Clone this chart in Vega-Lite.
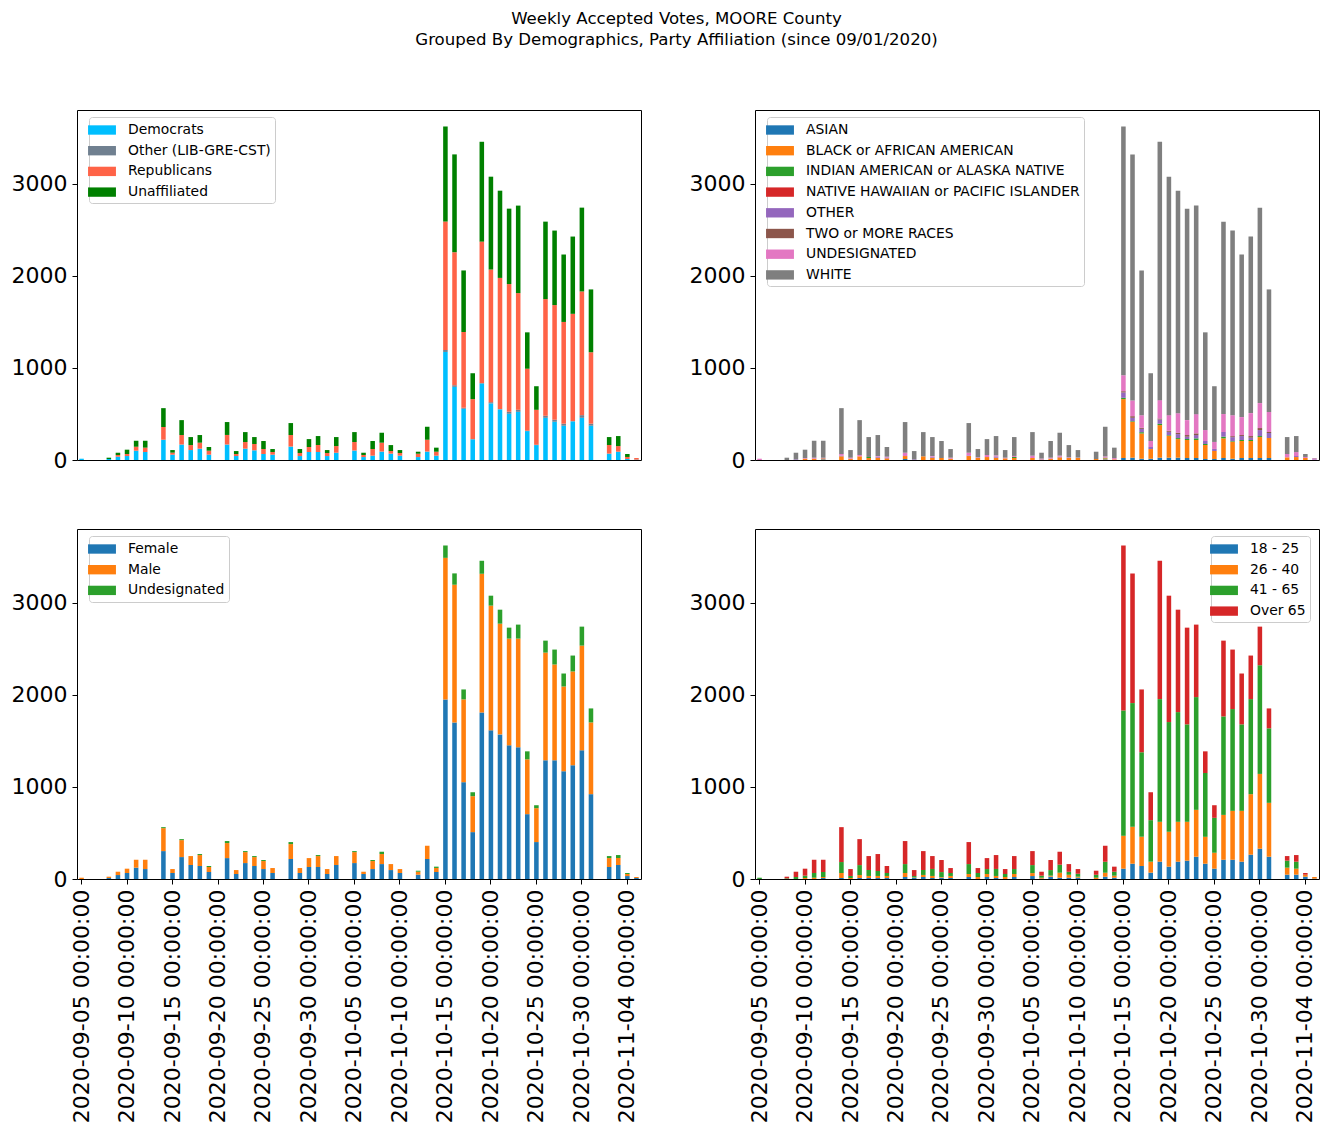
{
"$schema": "https://vega.github.io/schema/vega-lite/v6.json",
"padding": {"left": 10, "top": 10, "right": 4, "bottom": 4},
"background": "white",
"title": {"text": ["Weekly Accepted Votes, MOORE County", "Grouped By Demographics, Party Affiliation (since 09/01/2020)"], "fontSize": 16.6, "font": "DejaVu Sans", "fontWeight": "normal", "color": "black", "anchor": "middle", "lineHeight": 21, "offset": 61, "dx": 11.5},
"config": {
  "view": {"stroke": "black", "strokeWidth": 1},
  "font": "DejaVu Sans",
  "axis": {"domain": false, "grid": false, "tickColor": "black", "tickSize": 5, "labelColor": "black", "labelFontSize": 22, "labelFont": "DejaVu Sans", "labelPadding": 5, "title": null},
  "legend": {"title": null, "padding": 4, "strokeColor": "#cccccc", "fillColor": "white", "cornerRadius": 3, "symbolType": "M-1.55,-0.52H1.55V0.52H-1.55Z", "symbolSize": 324, "symbolStrokeWidth": 0, "symbolOpacity": 1, "labelFontSize": 13.9, "labelFont": "DejaVu Sans", "labelColor": "black", "labelOffset": 17, "rowPadding": 4.7, "labelLimit": 500, "offset": 7}
},
"datasets": {
"party": [
{"date":"2020-09-05 00:00:00","Democrats":14,"Other (LIB-GRE-CST)":0,"Republicans":0,"Unaffiliated":0},
{"date":"2020-09-06 00:00:00","Democrats":0,"Other (LIB-GRE-CST)":0,"Republicans":0,"Unaffiliated":0},
{"date":"2020-09-07 00:00:00","Democrats":0,"Other (LIB-GRE-CST)":0,"Republicans":0,"Unaffiliated":0},
{"date":"2020-09-08 00:00:00","Democrats":11,"Other (LIB-GRE-CST)":0,"Republicans":0,"Unaffiliated":14},
{"date":"2020-09-09 00:00:00","Democrats":36,"Other (LIB-GRE-CST)":0,"Republicans":18,"Unaffiliated":25},
{"date":"2020-09-10 00:00:00","Democrats":43,"Other (LIB-GRE-CST)":0,"Republicans":22,"Unaffiliated":47},
{"date":"2020-09-11 00:00:00","Democrats":101,"Other (LIB-GRE-CST)":0,"Republicans":43,"Unaffiliated":65},
{"date":"2020-09-12 00:00:00","Democrats":87,"Other (LIB-GRE-CST)":0,"Republicans":47,"Unaffiliated":75},
{"date":"2020-09-13 00:00:00","Democrats":0,"Other (LIB-GRE-CST)":0,"Republicans":0,"Unaffiliated":0},
{"date":"2020-09-14 00:00:00","Democrats":217,"Other (LIB-GRE-CST)":4,"Republicans":137,"Unaffiliated":205},
{"date":"2020-09-15 00:00:00","Democrats":58,"Other (LIB-GRE-CST)":0,"Republicans":22,"Unaffiliated":28},
{"date":"2020-09-16 00:00:00","Democrats":166,"Other (LIB-GRE-CST)":3,"Republicans":102,"Unaffiliated":162},
{"date":"2020-09-17 00:00:00","Democrats":108,"Other (LIB-GRE-CST)":0,"Republicans":54,"Unaffiliated":87},
{"date":"2020-09-18 00:00:00","Democrats":123,"Other (LIB-GRE-CST)":0,"Republicans":65,"Unaffiliated":83},
{"date":"2020-09-19 00:00:00","Democrats":58,"Other (LIB-GRE-CST)":0,"Republicans":43,"Unaffiliated":40},
{"date":"2020-09-20 00:00:00","Democrats":0,"Other (LIB-GRE-CST)":0,"Republicans":0,"Unaffiliated":0},
{"date":"2020-09-21 00:00:00","Democrats":166,"Other (LIB-GRE-CST)":3,"Republicans":103,"Unaffiliated":140},
{"date":"2020-09-22 00:00:00","Democrats":43,"Other (LIB-GRE-CST)":0,"Republicans":22,"Unaffiliated":32},
{"date":"2020-09-23 00:00:00","Democrats":123,"Other (LIB-GRE-CST)":0,"Republicans":72,"Unaffiliated":108},
{"date":"2020-09-24 00:00:00","Democrats":105,"Other (LIB-GRE-CST)":0,"Republicans":69,"Unaffiliated":75},
{"date":"2020-09-25 00:00:00","Democrats":65,"Other (LIB-GRE-CST)":0,"Republicans":54,"Unaffiliated":87},
{"date":"2020-09-26 00:00:00","Democrats":58,"Other (LIB-GRE-CST)":0,"Republicans":29,"Unaffiliated":32},
{"date":"2020-09-27 00:00:00","Democrats":0,"Other (LIB-GRE-CST)":0,"Republicans":0,"Unaffiliated":0},
{"date":"2020-09-28 00:00:00","Democrats":144,"Other (LIB-GRE-CST)":3,"Republicans":124,"Unaffiliated":130},
{"date":"2020-09-29 00:00:00","Democrats":43,"Other (LIB-GRE-CST)":0,"Republicans":33,"Unaffiliated":43},
{"date":"2020-09-30 00:00:00","Democrats":87,"Other (LIB-GRE-CST)":0,"Republicans":54,"Unaffiliated":86},
{"date":"2020-10-01 00:00:00","Democrats":87,"Other (LIB-GRE-CST)":0,"Republicans":76,"Unaffiliated":97},
{"date":"2020-10-02 00:00:00","Democrats":43,"Other (LIB-GRE-CST)":0,"Republicans":33,"Unaffiliated":32},
{"date":"2020-10-03 00:00:00","Democrats":79,"Other (LIB-GRE-CST)":0,"Republicans":72,"Unaffiliated":98},
{"date":"2020-10-04 00:00:00","Democrats":0,"Other (LIB-GRE-CST)":0,"Republicans":0,"Unaffiliated":0},
{"date":"2020-10-05 00:00:00","Democrats":101,"Other (LIB-GRE-CST)":3,"Republicans":91,"Unaffiliated":108},
{"date":"2020-10-06 00:00:00","Democrats":32,"Other (LIB-GRE-CST)":0,"Republicans":22,"Unaffiliated":25},
{"date":"2020-10-07 00:00:00","Democrats":47,"Other (LIB-GRE-CST)":0,"Republicans":72,"Unaffiliated":87},
{"date":"2020-10-08 00:00:00","Democrats":90,"Other (LIB-GRE-CST)":2,"Republicans":96,"Unaffiliated":108},
{"date":"2020-10-09 00:00:00","Democrats":69,"Other (LIB-GRE-CST)":0,"Republicans":29,"Unaffiliated":64},
{"date":"2020-10-10 00:00:00","Democrats":47,"Other (LIB-GRE-CST)":0,"Republicans":29,"Unaffiliated":32},
{"date":"2020-10-11 00:00:00","Democrats":0,"Other (LIB-GRE-CST)":0,"Republicans":0,"Unaffiliated":0},
{"date":"2020-10-12 00:00:00","Democrats":32,"Other (LIB-GRE-CST)":0,"Republicans":36,"Unaffiliated":22},
{"date":"2020-10-13 00:00:00","Democrats":90,"Other (LIB-GRE-CST)":2,"Republicans":128,"Unaffiliated":141},
{"date":"2020-10-14 00:00:00","Democrats":47,"Other (LIB-GRE-CST)":0,"Republicans":43,"Unaffiliated":44},
{"date":"2020-10-15 00:00:00","Democrats":1173,"Other (LIB-GRE-CST)":22,"Republicans":1394,"Unaffiliated":1032},
{"date":"2020-10-16 00:00:00","Democrats":794,"Other (LIB-GRE-CST)":18,"Republicans":1444,"Unaffiliated":1062},
{"date":"2020-10-17 00:00:00","Democrats":556,"Other (LIB-GRE-CST)":11,"Republicans":823,"Unaffiliated":668},
{"date":"2020-10-18 00:00:00","Democrats":224,"Other (LIB-GRE-CST)":4,"Republicans":433,"Unaffiliated":281},
{"date":"2020-10-19 00:00:00","Democrats":830,"Other (LIB-GRE-CST)":7,"Republicans":1534,"Unaffiliated":1084},
{"date":"2020-10-20 00:00:00","Democrats":614,"Other (LIB-GRE-CST)":14,"Republicans":1440,"Unaffiliated":1008},
{"date":"2020-10-21 00:00:00","Democrats":549,"Other (LIB-GRE-CST)":4,"Republicans":1424,"Unaffiliated":947},
{"date":"2020-10-22 00:00:00","Democrats":502,"Other (LIB-GRE-CST)":22,"Republicans":1386,"Unaffiliated":819},
{"date":"2020-10-23 00:00:00","Democrats":523,"Other (LIB-GRE-CST)":22,"Republicans":1267,"Unaffiliated":950},
{"date":"2020-10-24 00:00:00","Democrats":314,"Other (LIB-GRE-CST)":4,"Republicans":673,"Unaffiliated":395},
{"date":"2020-10-25 00:00:00","Democrats":162,"Other (LIB-GRE-CST)":3,"Republicans":380,"Unaffiliated":256},
{"date":"2020-10-26 00:00:00","Democrats":458,"Other (LIB-GRE-CST)":22,"Republicans":1267,"Unaffiliated":841},
{"date":"2020-10-27 00:00:00","Democrats":415,"Other (LIB-GRE-CST)":22,"Republicans":1245,"Unaffiliated":809},
{"date":"2020-10-28 00:00:00","Democrats":372,"Other (LIB-GRE-CST)":22,"Republicans":1105,"Unaffiliated":732},
{"date":"2020-10-29 00:00:00","Democrats":419,"Other (LIB-GRE-CST)":4,"Republicans":1164,"Unaffiliated":839},
{"date":"2020-10-30 00:00:00","Democrats":458,"Other (LIB-GRE-CST)":29,"Republicans":1343,"Unaffiliated":910},
{"date":"2020-10-31 00:00:00","Democrats":372,"Other (LIB-GRE-CST)":22,"Republicans":776,"Unaffiliated":682},
{"date":"2020-11-01 00:00:00","Democrats":0,"Other (LIB-GRE-CST)":0,"Republicans":0,"Unaffiliated":0},
{"date":"2020-11-02 00:00:00","Democrats":69,"Other (LIB-GRE-CST)":0,"Republicans":94,"Unaffiliated":86},
{"date":"2020-11-03 00:00:00","Democrats":90,"Other (LIB-GRE-CST)":0,"Republicans":61,"Unaffiliated":109},
{"date":"2020-11-04 00:00:00","Democrats":11,"Other (LIB-GRE-CST)":0,"Republicans":22,"Unaffiliated":32},
{"date":"2020-11-05 00:00:00","Democrats":4,"Other (LIB-GRE-CST)":0,"Republicans":18,"Unaffiliated":0}
],
"race": [
{"date":"2020-09-05 00:00:00","ASIAN":0,"BLACK or AFRICAN AMERICAN":0,"INDIAN AMERICAN or ALASKA NATIVE":0,"NATIVE HAWAIIAN or PACIFIC ISLANDER":0,"OTHER":0,"TWO or MORE RACES":0,"UNDESIGNATED":14,"WHITE":0},
{"date":"2020-09-06 00:00:00","ASIAN":0,"BLACK or AFRICAN AMERICAN":0,"INDIAN AMERICAN or ALASKA NATIVE":0,"NATIVE HAWAIIAN or PACIFIC ISLANDER":0,"OTHER":0,"TWO or MORE RACES":0,"UNDESIGNATED":0,"WHITE":0},
{"date":"2020-09-07 00:00:00","ASIAN":0,"BLACK or AFRICAN AMERICAN":0,"INDIAN AMERICAN or ALASKA NATIVE":0,"NATIVE HAWAIIAN or PACIFIC ISLANDER":0,"OTHER":0,"TWO or MORE RACES":0,"UNDESIGNATED":0,"WHITE":0},
{"date":"2020-09-08 00:00:00","ASIAN":0,"BLACK or AFRICAN AMERICAN":0,"INDIAN AMERICAN or ALASKA NATIVE":0,"NATIVE HAWAIIAN or PACIFIC ISLANDER":0,"OTHER":0,"TWO or MORE RACES":0,"UNDESIGNATED":0,"WHITE":25},
{"date":"2020-09-09 00:00:00","ASIAN":0,"BLACK or AFRICAN AMERICAN":0,"INDIAN AMERICAN or ALASKA NATIVE":0,"NATIVE HAWAIIAN or PACIFIC ISLANDER":0,"OTHER":7,"TWO or MORE RACES":0,"UNDESIGNATED":0,"WHITE":72},
{"date":"2020-09-10 00:00:00","ASIAN":0,"BLACK or AFRICAN AMERICAN":14,"INDIAN AMERICAN or ALASKA NATIVE":0,"NATIVE HAWAIIAN or PACIFIC ISLANDER":0,"OTHER":0,"TWO or MORE RACES":0,"UNDESIGNATED":7,"WHITE":91},
{"date":"2020-09-11 00:00:00","ASIAN":0,"BLACK or AFRICAN AMERICAN":14,"INDIAN AMERICAN or ALASKA NATIVE":0,"NATIVE HAWAIIAN or PACIFIC ISLANDER":0,"OTHER":0,"TWO or MORE RACES":0,"UNDESIGNATED":11,"WHITE":184},
{"date":"2020-09-12 00:00:00","ASIAN":7,"BLACK or AFRICAN AMERICAN":11,"INDIAN AMERICAN or ALASKA NATIVE":0,"NATIVE HAWAIIAN or PACIFIC ISLANDER":0,"OTHER":7,"TWO or MORE RACES":0,"UNDESIGNATED":0,"WHITE":184},
{"date":"2020-09-13 00:00:00","ASIAN":0,"BLACK or AFRICAN AMERICAN":0,"INDIAN AMERICAN or ALASKA NATIVE":0,"NATIVE HAWAIIAN or PACIFIC ISLANDER":0,"OTHER":0,"TWO or MORE RACES":0,"UNDESIGNATED":0,"WHITE":0},
{"date":"2020-09-14 00:00:00","ASIAN":0,"BLACK or AFRICAN AMERICAN":40,"INDIAN AMERICAN or ALASKA NATIVE":0,"NATIVE HAWAIIAN or PACIFIC ISLANDER":0,"OTHER":8,"TWO or MORE RACES":0,"UNDESIGNATED":17,"WHITE":498},
{"date":"2020-09-15 00:00:00","ASIAN":0,"BLACK or AFRICAN AMERICAN":14,"INDIAN AMERICAN or ALASKA NATIVE":0,"NATIVE HAWAIIAN or PACIFIC ISLANDER":0,"OTHER":0,"TWO or MORE RACES":0,"UNDESIGNATED":11,"WHITE":83},
{"date":"2020-09-16 00:00:00","ASIAN":0,"BLACK or AFRICAN AMERICAN":40,"INDIAN AMERICAN or ALASKA NATIVE":0,"NATIVE HAWAIIAN or PACIFIC ISLANDER":0,"OTHER":0,"TWO or MORE RACES":0,"UNDESIGNATED":14,"WHITE":379},
{"date":"2020-09-17 00:00:00","ASIAN":0,"BLACK or AFRICAN AMERICAN":22,"INDIAN AMERICAN or ALASKA NATIVE":11,"NATIVE HAWAIIAN or PACIFIC ISLANDER":0,"OTHER":0,"TWO or MORE RACES":0,"UNDESIGNATED":0,"WHITE":216},
{"date":"2020-09-18 00:00:00","ASIAN":0,"BLACK or AFRICAN AMERICAN":25,"INDIAN AMERICAN or ALASKA NATIVE":0,"NATIVE HAWAIIAN or PACIFIC ISLANDER":0,"OTHER":11,"TWO or MORE RACES":0,"UNDESIGNATED":7,"WHITE":228},
{"date":"2020-09-19 00:00:00","ASIAN":0,"BLACK or AFRICAN AMERICAN":18,"INDIAN AMERICAN or ALASKA NATIVE":0,"NATIVE HAWAIIAN or PACIFIC ISLANDER":0,"OTHER":9,"TWO or MORE RACES":0,"UNDESIGNATED":9,"WHITE":105},
{"date":"2020-09-20 00:00:00","ASIAN":0,"BLACK or AFRICAN AMERICAN":0,"INDIAN AMERICAN or ALASKA NATIVE":0,"NATIVE HAWAIIAN or PACIFIC ISLANDER":0,"OTHER":0,"TWO or MORE RACES":0,"UNDESIGNATED":0,"WHITE":0},
{"date":"2020-09-21 00:00:00","ASIAN":11,"BLACK or AFRICAN AMERICAN":32,"INDIAN AMERICAN or ALASKA NATIVE":0,"NATIVE HAWAIIAN or PACIFIC ISLANDER":0,"OTHER":0,"TWO or MORE RACES":0,"UNDESIGNATED":36,"WHITE":333},
{"date":"2020-09-22 00:00:00","ASIAN":0,"BLACK or AFRICAN AMERICAN":0,"INDIAN AMERICAN or ALASKA NATIVE":0,"NATIVE HAWAIIAN or PACIFIC ISLANDER":0,"OTHER":7,"TWO or MORE RACES":0,"UNDESIGNATED":0,"WHITE":90},
{"date":"2020-09-23 00:00:00","ASIAN":0,"BLACK or AFRICAN AMERICAN":40,"INDIAN AMERICAN or ALASKA NATIVE":0,"NATIVE HAWAIIAN or PACIFIC ISLANDER":0,"OTHER":0,"TWO or MORE RACES":0,"UNDESIGNATED":0,"WHITE":263},
{"date":"2020-09-24 00:00:00","ASIAN":0,"BLACK or AFRICAN AMERICAN":25,"INDIAN AMERICAN or ALASKA NATIVE":0,"NATIVE HAWAIIAN or PACIFIC ISLANDER":0,"OTHER":11,"TWO or MORE RACES":0,"UNDESIGNATED":7,"WHITE":206},
{"date":"2020-09-25 00:00:00","ASIAN":0,"BLACK or AFRICAN AMERICAN":22,"INDIAN AMERICAN or ALASKA NATIVE":0,"NATIVE HAWAIIAN or PACIFIC ISLANDER":0,"OTHER":0,"TWO or MORE RACES":0,"UNDESIGNATED":0,"WHITE":184},
{"date":"2020-09-26 00:00:00","ASIAN":0,"BLACK or AFRICAN AMERICAN":14,"INDIAN AMERICAN or ALASKA NATIVE":0,"NATIVE HAWAIIAN or PACIFIC ISLANDER":0,"OTHER":0,"TWO or MORE RACES":0,"UNDESIGNATED":11,"WHITE":94},
{"date":"2020-09-27 00:00:00","ASIAN":0,"BLACK or AFRICAN AMERICAN":0,"INDIAN AMERICAN or ALASKA NATIVE":0,"NATIVE HAWAIIAN or PACIFIC ISLANDER":0,"OTHER":0,"TWO or MORE RACES":0,"UNDESIGNATED":0,"WHITE":0},
{"date":"2020-09-28 00:00:00","ASIAN":0,"BLACK or AFRICAN AMERICAN":43,"INDIAN AMERICAN or ALASKA NATIVE":0,"NATIVE HAWAIIAN or PACIFIC ISLANDER":0,"OTHER":7,"TWO or MORE RACES":0,"UNDESIGNATED":29,"WHITE":322},
{"date":"2020-09-29 00:00:00","ASIAN":0,"BLACK or AFRICAN AMERICAN":22,"INDIAN AMERICAN or ALASKA NATIVE":0,"NATIVE HAWAIIAN or PACIFIC ISLANDER":0,"OTHER":0,"TWO or MORE RACES":0,"UNDESIGNATED":7,"WHITE":90},
{"date":"2020-09-30 00:00:00","ASIAN":0,"BLACK or AFRICAN AMERICAN":32,"INDIAN AMERICAN or ALASKA NATIVE":0,"NATIVE HAWAIIAN or PACIFIC ISLANDER":0,"OTHER":0,"TWO or MORE RACES":0,"UNDESIGNATED":22,"WHITE":173},
{"date":"2020-10-01 00:00:00","ASIAN":0,"BLACK or AFRICAN AMERICAN":25,"INDIAN AMERICAN or ALASKA NATIVE":0,"NATIVE HAWAIIAN or PACIFIC ISLANDER":0,"OTHER":14,"TWO or MORE RACES":0,"UNDESIGNATED":11,"WHITE":210},
{"date":"2020-10-02 00:00:00","ASIAN":0,"BLACK or AFRICAN AMERICAN":18,"INDIAN AMERICAN or ALASKA NATIVE":0,"NATIVE HAWAIIAN or PACIFIC ISLANDER":0,"OTHER":0,"TWO or MORE RACES":0,"UNDESIGNATED":7,"WHITE":83},
{"date":"2020-10-03 00:00:00","ASIAN":0,"BLACK or AFRICAN AMERICAN":22,"INDIAN AMERICAN or ALASKA NATIVE":11,"NATIVE HAWAIIAN or PACIFIC ISLANDER":0,"OTHER":0,"TWO or MORE RACES":0,"UNDESIGNATED":11,"WHITE":205},
{"date":"2020-10-04 00:00:00","ASIAN":0,"BLACK or AFRICAN AMERICAN":0,"INDIAN AMERICAN or ALASKA NATIVE":0,"NATIVE HAWAIIAN or PACIFIC ISLANDER":0,"OTHER":0,"TWO or MORE RACES":0,"UNDESIGNATED":0,"WHITE":0},
{"date":"2020-10-05 00:00:00","ASIAN":0,"BLACK or AFRICAN AMERICAN":22,"INDIAN AMERICAN or ALASKA NATIVE":0,"NATIVE HAWAIIAN or PACIFIC ISLANDER":0,"OTHER":0,"TWO or MORE RACES":0,"UNDESIGNATED":25,"WHITE":256},
{"date":"2020-10-06 00:00:00","ASIAN":0,"BLACK or AFRICAN AMERICAN":4,"INDIAN AMERICAN or ALASKA NATIVE":0,"NATIVE HAWAIIAN or PACIFIC ISLANDER":0,"OTHER":4,"TWO or MORE RACES":0,"UNDESIGNATED":7,"WHITE":64},
{"date":"2020-10-07 00:00:00","ASIAN":0,"BLACK or AFRICAN AMERICAN":14,"INDIAN AMERICAN or ALASKA NATIVE":0,"NATIVE HAWAIIAN or PACIFIC ISLANDER":0,"OTHER":0,"TWO or MORE RACES":0,"UNDESIGNATED":11,"WHITE":181},
{"date":"2020-10-08 00:00:00","ASIAN":0,"BLACK or AFRICAN AMERICAN":29,"INDIAN AMERICAN or ALASKA NATIVE":0,"NATIVE HAWAIIAN or PACIFIC ISLANDER":0,"OTHER":7,"TWO or MORE RACES":0,"UNDESIGNATED":11,"WHITE":249},
{"date":"2020-10-09 00:00:00","ASIAN":0,"BLACK or AFRICAN AMERICAN":22,"INDIAN AMERICAN or ALASKA NATIVE":0,"NATIVE HAWAIIAN or PACIFIC ISLANDER":0,"OTHER":0,"TWO or MORE RACES":0,"UNDESIGNATED":7,"WHITE":133},
{"date":"2020-10-10 00:00:00","ASIAN":0,"BLACK or AFRICAN AMERICAN":22,"INDIAN AMERICAN or ALASKA NATIVE":0,"NATIVE HAWAIIAN or PACIFIC ISLANDER":0,"OTHER":0,"TWO or MORE RACES":0,"UNDESIGNATED":4,"WHITE":82},
{"date":"2020-10-11 00:00:00","ASIAN":0,"BLACK or AFRICAN AMERICAN":0,"INDIAN AMERICAN or ALASKA NATIVE":0,"NATIVE HAWAIIAN or PACIFIC ISLANDER":0,"OTHER":0,"TWO or MORE RACES":0,"UNDESIGNATED":0,"WHITE":0},
{"date":"2020-10-12 00:00:00","ASIAN":0,"BLACK or AFRICAN AMERICAN":11,"INDIAN AMERICAN or ALASKA NATIVE":0,"NATIVE HAWAIIAN or PACIFIC ISLANDER":0,"OTHER":0,"TWO or MORE RACES":0,"UNDESIGNATED":0,"WHITE":79},
{"date":"2020-10-13 00:00:00","ASIAN":7,"BLACK or AFRICAN AMERICAN":11,"INDIAN AMERICAN or ALASKA NATIVE":7,"NATIVE HAWAIIAN or PACIFIC ISLANDER":0,"OTHER":0,"TWO or MORE RACES":0,"UNDESIGNATED":14,"WHITE":322},
{"date":"2020-10-14 00:00:00","ASIAN":0,"BLACK or AFRICAN AMERICAN":7,"INDIAN AMERICAN or ALASKA NATIVE":0,"NATIVE HAWAIIAN or PACIFIC ISLANDER":0,"OTHER":0,"TWO or MORE RACES":0,"UNDESIGNATED":14,"WHITE":113},
{"date":"2020-10-15 00:00:00","ASIAN":22,"BLACK or AFRICAN AMERICAN":639,"INDIAN AMERICAN or ALASKA NATIVE":14,"NATIVE HAWAIIAN or PACIFIC ISLANDER":0,"OTHER":58,"TWO or MORE RACES":14,"UNDESIGNATED":173,"WHITE":2701},
{"date":"2020-10-16 00:00:00","ASIAN":25,"BLACK or AFRICAN AMERICAN":390,"INDIAN AMERICAN or ALASKA NATIVE":7,"NATIVE HAWAIIAN or PACIFIC ISLANDER":0,"OTHER":36,"TWO or MORE RACES":18,"UNDESIGNATED":170,"WHITE":2672},
{"date":"2020-10-17 00:00:00","ASIAN":14,"BLACK or AFRICAN AMERICAN":274,"INDIAN AMERICAN or ALASKA NATIVE":14,"NATIVE HAWAIIAN or PACIFIC ISLANDER":0,"OTHER":36,"TWO or MORE RACES":11,"UNDESIGNATED":137,"WHITE":1572},
{"date":"2020-10-18 00:00:00","ASIAN":14,"BLACK or AFRICAN AMERICAN":105,"INDIAN AMERICAN or ALASKA NATIVE":0,"NATIVE HAWAIIAN or PACIFIC ISLANDER":0,"OTHER":22,"TWO or MORE RACES":0,"UNDESIGNATED":65,"WHITE":736},
{"date":"2020-10-19 00:00:00","ASIAN":25,"BLACK or AFRICAN AMERICAN":354,"INDIAN AMERICAN or ALASKA NATIVE":14,"NATIVE HAWAIIAN or PACIFIC ISLANDER":0,"OTHER":47,"TWO or MORE RACES":11,"UNDESIGNATED":199,"WHITE":2805},
{"date":"2020-10-20 00:00:00","ASIAN":25,"BLACK or AFRICAN AMERICAN":238,"INDIAN AMERICAN or ALASKA NATIVE":7,"NATIVE HAWAIIAN or PACIFIC ISLANDER":0,"OTHER":36,"TWO or MORE RACES":11,"UNDESIGNATED":170,"WHITE":2589},
{"date":"2020-10-21 00:00:00","ASIAN":25,"BLACK or AFRICAN AMERICAN":202,"INDIAN AMERICAN or ALASKA NATIVE":11,"NATIVE HAWAIIAN or PACIFIC ISLANDER":0,"OTHER":43,"TWO or MORE RACES":14,"UNDESIGNATED":213,"WHITE":2416},
{"date":"2020-10-22 00:00:00","ASIAN":22,"BLACK or AFRICAN AMERICAN":195,"INDIAN AMERICAN or ALASKA NATIVE":11,"NATIVE HAWAIIAN or PACIFIC ISLANDER":0,"OTHER":25,"TWO or MORE RACES":18,"UNDESIGNATED":162,"WHITE":2296},
{"date":"2020-10-23 00:00:00","ASIAN":22,"BLACK or AFRICAN AMERICAN":195,"INDIAN AMERICAN or ALASKA NATIVE":18,"NATIVE HAWAIIAN or PACIFIC ISLANDER":0,"OTHER":36,"TWO or MORE RACES":18,"UNDESIGNATED":209,"WHITE":2264},
{"date":"2020-10-24 00:00:00","ASIAN":11,"BLACK or AFRICAN AMERICAN":152,"INDIAN AMERICAN or ALASKA NATIVE":11,"NATIVE HAWAIIAN or PACIFIC ISLANDER":0,"OTHER":32,"TWO or MORE RACES":0,"UNDESIGNATED":119,"WHITE":1061},
{"date":"2020-10-25 00:00:00","ASIAN":11,"BLACK or AFRICAN AMERICAN":87,"INDIAN AMERICAN or ALASKA NATIVE":0,"NATIVE HAWAIIAN or PACIFIC ISLANDER":0,"OTHER":22,"TWO or MORE RACES":0,"UNDESIGNATED":76,"WHITE":605},
{"date":"2020-10-26 00:00:00","ASIAN":22,"BLACK or AFRICAN AMERICAN":213,"INDIAN AMERICAN or ALASKA NATIVE":18,"NATIVE HAWAIIAN or PACIFIC ISLANDER":0,"OTHER":51,"TWO or MORE RACES":0,"UNDESIGNATED":195,"WHITE":2089},
{"date":"2020-10-27 00:00:00","ASIAN":14,"BLACK or AFRICAN AMERICAN":184,"INDIAN AMERICAN or ALASKA NATIVE":7,"NATIVE HAWAIIAN or PACIFIC ISLANDER":0,"OTHER":43,"TWO or MORE RACES":11,"UNDESIGNATED":227,"WHITE":2005},
{"date":"2020-10-28 00:00:00","ASIAN":22,"BLACK or AFRICAN AMERICAN":184,"INDIAN AMERICAN or ALASKA NATIVE":11,"NATIVE HAWAIIAN or PACIFIC ISLANDER":0,"OTHER":43,"TWO or MORE RACES":11,"UNDESIGNATED":195,"WHITE":1765},
{"date":"2020-10-29 00:00:00","ASIAN":22,"BLACK or AFRICAN AMERICAN":184,"INDIAN AMERICAN or ALASKA NATIVE":11,"NATIVE HAWAIIAN or PACIFIC ISLANDER":0,"OTHER":25,"TWO or MORE RACES":18,"UNDESIGNATED":249,"WHITE":1917},
{"date":"2020-10-30 00:00:00","ASIAN":22,"BLACK or AFRICAN AMERICAN":227,"INDIAN AMERICAN or ALASKA NATIVE":11,"NATIVE HAWAIIAN or PACIFIC ISLANDER":0,"OTHER":65,"TWO or MORE RACES":22,"UNDESIGNATED":271,"WHITE":2122},
{"date":"2020-10-31 00:00:00","ASIAN":22,"BLACK or AFRICAN AMERICAN":217,"INDIAN AMERICAN or ALASKA NATIVE":0,"NATIVE HAWAIIAN or PACIFIC ISLANDER":0,"OTHER":54,"TWO or MORE RACES":11,"UNDESIGNATED":217,"WHITE":1331},
{"date":"2020-11-01 00:00:00","ASIAN":0,"BLACK or AFRICAN AMERICAN":0,"INDIAN AMERICAN or ALASKA NATIVE":0,"NATIVE HAWAIIAN or PACIFIC ISLANDER":0,"OTHER":0,"TWO or MORE RACES":0,"UNDESIGNATED":0,"WHITE":0},
{"date":"2020-11-02 00:00:00","ASIAN":0,"BLACK or AFRICAN AMERICAN":29,"INDIAN AMERICAN or ALASKA NATIVE":0,"NATIVE HAWAIIAN or PACIFIC ISLANDER":0,"OTHER":0,"TWO or MORE RACES":0,"UNDESIGNATED":36,"WHITE":184},
{"date":"2020-11-03 00:00:00","ASIAN":0,"BLACK or AFRICAN AMERICAN":32,"INDIAN AMERICAN or ALASKA NATIVE":0,"NATIVE HAWAIIAN or PACIFIC ISLANDER":0,"OTHER":11,"TWO or MORE RACES":0,"UNDESIGNATED":43,"WHITE":174},
{"date":"2020-11-04 00:00:00","ASIAN":0,"BLACK or AFRICAN AMERICAN":22,"INDIAN AMERICAN or ALASKA NATIVE":0,"NATIVE HAWAIIAN or PACIFIC ISLANDER":0,"OTHER":0,"TWO or MORE RACES":0,"UNDESIGNATED":11,"WHITE":32},
{"date":"2020-11-05 00:00:00","ASIAN":0,"BLACK or AFRICAN AMERICAN":0,"INDIAN AMERICAN or ALASKA NATIVE":0,"NATIVE HAWAIIAN or PACIFIC ISLANDER":0,"OTHER":7,"TWO or MORE RACES":0,"UNDESIGNATED":11,"WHITE":4}
],
"gender": [
{"date":"2020-09-05 00:00:00","Female":0,"Male":14,"Undesignated":0},
{"date":"2020-09-06 00:00:00","Female":0,"Male":0,"Undesignated":0},
{"date":"2020-09-07 00:00:00","Female":0,"Male":0,"Undesignated":0},
{"date":"2020-09-08 00:00:00","Female":11,"Male":14,"Undesignated":0},
{"date":"2020-09-09 00:00:00","Female":43,"Male":36,"Undesignated":0},
{"date":"2020-09-10 00:00:00","Female":65,"Male":47,"Undesignated":0},
{"date":"2020-09-11 00:00:00","Female":123,"Male":86,"Undesignated":0},
{"date":"2020-09-12 00:00:00","Female":108,"Male":101,"Undesignated":0},
{"date":"2020-09-13 00:00:00","Female":0,"Male":0,"Undesignated":0},
{"date":"2020-09-14 00:00:00","Female":303,"Male":249,"Undesignated":11},
{"date":"2020-09-15 00:00:00","Female":65,"Male":43,"Undesignated":0},
{"date":"2020-09-16 00:00:00","Female":238,"Male":184,"Undesignated":11},
{"date":"2020-09-17 00:00:00","Female":152,"Male":97,"Undesignated":0},
{"date":"2020-09-18 00:00:00","Female":141,"Male":119,"Undesignated":11},
{"date":"2020-09-19 00:00:00","Female":76,"Male":54,"Undesignated":11},
{"date":"2020-09-20 00:00:00","Female":0,"Male":0,"Undesignated":0},
{"date":"2020-09-21 00:00:00","Female":227,"Male":163,"Undesignated":22},
{"date":"2020-09-22 00:00:00","Female":54,"Male":43,"Undesignated":0},
{"date":"2020-09-23 00:00:00","Female":173,"Male":119,"Undesignated":11},
{"date":"2020-09-24 00:00:00","Female":141,"Male":97,"Undesignated":11},
{"date":"2020-09-25 00:00:00","Female":108,"Male":87,"Undesignated":11},
{"date":"2020-09-26 00:00:00","Female":65,"Male":54,"Undesignated":0},
{"date":"2020-09-27 00:00:00","Female":0,"Male":0,"Undesignated":0},
{"date":"2020-09-28 00:00:00","Female":217,"Male":162,"Undesignated":22},
{"date":"2020-09-29 00:00:00","Female":65,"Male":54,"Undesignated":0},
{"date":"2020-09-30 00:00:00","Female":130,"Male":97,"Undesignated":0},
{"date":"2020-10-01 00:00:00","Female":130,"Male":119,"Undesignated":11},
{"date":"2020-10-02 00:00:00","Female":54,"Male":54,"Undesignated":0},
{"date":"2020-10-03 00:00:00","Female":152,"Male":97,"Undesignated":0},
{"date":"2020-10-04 00:00:00","Female":0,"Male":0,"Undesignated":0},
{"date":"2020-10-05 00:00:00","Female":173,"Male":119,"Undesignated":11},
{"date":"2020-10-06 00:00:00","Female":54,"Male":25,"Undesignated":0},
{"date":"2020-10-07 00:00:00","Female":108,"Male":87,"Undesignated":11},
{"date":"2020-10-08 00:00:00","Female":162,"Male":109,"Undesignated":25},
{"date":"2020-10-09 00:00:00","Female":97,"Male":65,"Undesignated":0},
{"date":"2020-10-10 00:00:00","Female":65,"Male":43,"Undesignated":0},
{"date":"2020-10-11 00:00:00","Female":0,"Male":0,"Undesignated":0},
{"date":"2020-10-12 00:00:00","Female":47,"Male":32,"Undesignated":11},
{"date":"2020-10-13 00:00:00","Female":217,"Male":144,"Undesignated":0},
{"date":"2020-10-14 00:00:00","Female":76,"Male":44,"Undesignated":14},
{"date":"2020-10-15 00:00:00","Female":1949,"Male":1538,"Undesignated":134},
{"date":"2020-10-16 00:00:00","Female":1700,"Male":1495,"Undesignated":123},
{"date":"2020-10-17 00:00:00","Female":1051,"Male":899,"Undesignated":108},
{"date":"2020-10-18 00:00:00","Female":509,"Male":390,"Undesignated":43},
{"date":"2020-10-19 00:00:00","Female":1809,"Male":1505,"Undesignated":141},
{"date":"2020-10-20 00:00:00","Female":1614,"Male":1354,"Undesignated":108},
{"date":"2020-10-21 00:00:00","Female":1570,"Male":1202,"Undesignated":152},
{"date":"2020-10-22 00:00:00","Female":1451,"Male":1159,"Undesignated":119},
{"date":"2020-10-23 00:00:00","Female":1430,"Male":1180,"Undesignated":152},
{"date":"2020-10-24 00:00:00","Female":704,"Male":595,"Undesignated":87},
{"date":"2020-10-25 00:00:00","Female":401,"Male":368,"Undesignated":32},
{"date":"2020-10-26 00:00:00","Female":1289,"Male":1169,"Undesignated":130},
{"date":"2020-10-27 00:00:00","Female":1289,"Male":1040,"Undesignated":162},
{"date":"2020-10-28 00:00:00","Female":1170,"Male":920,"Undesignated":141},
{"date":"2020-10-29 00:00:00","Female":1235,"Male":1018,"Undesignated":173},
{"date":"2020-10-30 00:00:00","Female":1397,"Male":1137,"Undesignated":206},
{"date":"2020-10-31 00:00:00","Female":921,"Male":779,"Undesignated":152},
{"date":"2020-11-01 00:00:00","Female":0,"Male":0,"Undesignated":0},
{"date":"2020-11-02 00:00:00","Female":130,"Male":97,"Undesignated":22},
{"date":"2020-11-03 00:00:00","Female":152,"Male":76,"Undesignated":32},
{"date":"2020-11-04 00:00:00","Female":32,"Male":22,"Undesignated":11},
{"date":"2020-11-05 00:00:00","Female":11,"Male":11,"Undesignated":0}
],
"age": [
{"date":"2020-09-05 00:00:00","18 - 25":0,"26 - 40":0,"41 - 65":14,"Over 65":0},
{"date":"2020-09-06 00:00:00","18 - 25":0,"26 - 40":0,"41 - 65":0,"Over 65":0},
{"date":"2020-09-07 00:00:00","18 - 25":0,"26 - 40":0,"41 - 65":0,"Over 65":0},
{"date":"2020-09-08 00:00:00","18 - 25":0,"26 - 40":0,"41 - 65":7,"Over 65":18},
{"date":"2020-09-09 00:00:00","18 - 25":0,"26 - 40":0,"41 - 65":22,"Over 65":57},
{"date":"2020-09-10 00:00:00","18 - 25":0,"26 - 40":11,"41 - 65":25,"Over 65":76},
{"date":"2020-09-11 00:00:00","18 - 25":0,"26 - 40":14,"41 - 65":51,"Over 65":144},
{"date":"2020-09-12 00:00:00","18 - 25":11,"26 - 40":11,"41 - 65":54,"Over 65":133},
{"date":"2020-09-13 00:00:00","18 - 25":0,"26 - 40":0,"41 - 65":0,"Over 65":0},
{"date":"2020-09-14 00:00:00","18 - 25":11,"26 - 40":54,"41 - 65":119,"Over 65":379},
{"date":"2020-09-15 00:00:00","18 - 25":0,"26 - 40":11,"41 - 65":22,"Over 65":75},
{"date":"2020-09-16 00:00:00","18 - 25":11,"26 - 40":32,"41 - 65":108,"Over 65":282},
{"date":"2020-09-17 00:00:00","18 - 25":11,"26 - 40":22,"41 - 65":65,"Over 65":151},
{"date":"2020-09-18 00:00:00","18 - 25":11,"26 - 40":22,"41 - 65":54,"Over 65":184},
{"date":"2020-09-19 00:00:00","18 - 25":11,"26 - 40":22,"41 - 65":32,"Over 65":76},
{"date":"2020-09-20 00:00:00","18 - 25":0,"26 - 40":0,"41 - 65":0,"Over 65":0},
{"date":"2020-09-21 00:00:00","18 - 25":22,"26 - 40":43,"41 - 65":97,"Over 65":250},
{"date":"2020-09-22 00:00:00","18 - 25":14,"26 - 40":4,"41 - 65":14,"Over 65":65},
{"date":"2020-09-23 00:00:00","18 - 25":22,"26 - 40":22,"41 - 65":54,"Over 65":205},
{"date":"2020-09-24 00:00:00","18 - 25":11,"26 - 40":22,"41 - 65":76,"Over 65":140},
{"date":"2020-09-25 00:00:00","18 - 25":14,"26 - 40":7,"41 - 65":54,"Over 65":131},
{"date":"2020-09-26 00:00:00","18 - 25":11,"26 - 40":22,"41 - 65":32,"Over 65":54},
{"date":"2020-09-27 00:00:00","18 - 25":0,"26 - 40":0,"41 - 65":0,"Over 65":0},
{"date":"2020-09-28 00:00:00","18 - 25":22,"26 - 40":32,"41 - 65":108,"Over 65":239},
{"date":"2020-09-29 00:00:00","18 - 25":0,"26 - 40":22,"41 - 65":43,"Over 65":54},
{"date":"2020-09-30 00:00:00","18 - 25":22,"26 - 40":32,"41 - 65":54,"Over 65":119},
{"date":"2020-10-01 00:00:00","18 - 25":11,"26 - 40":22,"41 - 65":76,"Over 65":151},
{"date":"2020-10-02 00:00:00","18 - 25":0,"26 - 40":22,"41 - 65":32,"Over 65":54},
{"date":"2020-10-03 00:00:00","18 - 25":22,"26 - 40":32,"41 - 65":54,"Over 65":141},
{"date":"2020-10-04 00:00:00","18 - 25":0,"26 - 40":0,"41 - 65":0,"Over 65":0},
{"date":"2020-10-05 00:00:00","18 - 25":32,"26 - 40":32,"41 - 65":87,"Over 65":152},
{"date":"2020-10-06 00:00:00","18 - 25":4,"26 - 40":10,"41 - 65":22,"Over 65":43},
{"date":"2020-10-07 00:00:00","18 - 25":25,"26 - 40":11,"41 - 65":61,"Over 65":109},
{"date":"2020-10-08 00:00:00","18 - 25":14,"26 - 40":54,"41 - 65":87,"Over 65":141},
{"date":"2020-10-09 00:00:00","18 - 25":14,"26 - 40":32,"41 - 65":32,"Over 65":84},
{"date":"2020-10-10 00:00:00","18 - 25":14,"26 - 40":11,"41 - 65":32,"Over 65":51},
{"date":"2020-10-11 00:00:00","18 - 25":0,"26 - 40":0,"41 - 65":0,"Over 65":0},
{"date":"2020-10-12 00:00:00","18 - 25":0,"26 - 40":14,"41 - 65":32,"Over 65":44},
{"date":"2020-10-13 00:00:00","18 - 25":25,"26 - 40":43,"41 - 65":119,"Over 65":174},
{"date":"2020-10-14 00:00:00","18 - 25":14,"26 - 40":22,"41 - 65":43,"Over 65":55},
{"date":"2020-10-15 00:00:00","18 - 25":112,"26 - 40":357,"41 - 65":1361,"Over 65":1791},
{"date":"2020-10-16 00:00:00","18 - 25":166,"26 - 40":401,"41 - 65":1343,"Over 65":1408},
{"date":"2020-10-17 00:00:00","18 - 25":141,"26 - 40":318,"41 - 65":917,"Over 65":682},
{"date":"2020-10-18 00:00:00","18 - 25":69,"26 - 40":119,"41 - 65":451,"Over 65":303},
{"date":"2020-10-19 00:00:00","18 - 25":188,"26 - 40":433,"41 - 65":1332,"Over 65":1502},
{"date":"2020-10-20 00:00:00","18 - 25":134,"26 - 40":379,"41 - 65":1191,"Over 65":1372},
{"date":"2020-10-21 00:00:00","18 - 25":188,"26 - 40":433,"41 - 65":1191,"Over 65":1112},
{"date":"2020-10-22 00:00:00","18 - 25":199,"26 - 40":422,"41 - 65":1058,"Over 65":1050},
{"date":"2020-10-23 00:00:00","18 - 25":242,"26 - 40":509,"41 - 65":1224,"Over 65":787},
{"date":"2020-10-24 00:00:00","18 - 25":166,"26 - 40":292,"41 - 65":693,"Over 65":235},
{"date":"2020-10-25 00:00:00","18 - 25":112,"26 - 40":173,"41 - 65":379,"Over 65":137},
{"date":"2020-10-26 00:00:00","18 - 25":209,"26 - 40":487,"41 - 65":1069,"Over 65":823},
{"date":"2020-10-27 00:00:00","18 - 25":209,"26 - 40":531,"41 - 65":1105,"Over 65":646},
{"date":"2020-10-28 00:00:00","18 - 25":188,"26 - 40":552,"41 - 65":939,"Over 65":552},
{"date":"2020-10-29 00:00:00","18 - 25":264,"26 - 40":657,"41 - 65":1032,"Over 65":473},
{"date":"2020-10-30 00:00:00","18 - 25":329,"26 - 40":812,"41 - 65":1180,"Over 65":419},
{"date":"2020-10-31 00:00:00","18 - 25":242,"26 - 40":585,"41 - 65":809,"Over 65":216},
{"date":"2020-11-01 00:00:00","18 - 25":0,"26 - 40":0,"41 - 65":0,"Over 65":0},
{"date":"2020-11-02 00:00:00","18 - 25":47,"26 - 40":76,"41 - 65":76,"Over 65":50},
{"date":"2020-11-03 00:00:00","18 - 25":47,"26 - 40":65,"41 - 65":76,"Over 65":72},
{"date":"2020-11-04 00:00:00","18 - 25":25,"26 - 40":22,"41 - 65":0,"Over 65":18},
{"date":"2020-11-05 00:00:00","18 - 25":4,"26 - 40":18,"41 - 65":0,"Over 65":0}
]
},
"spacing": 56,
"resolve": {"scale": {"color": "independent", "x": "independent"}, "legend": {"color": "independent"}},
"vconcat": [
{
"hconcat": [
{
"width": 564, "height": 350,
"data": {"name": "party"},
"transform": [{"fold": ["Democrats", "Other (LIB-GRE-CST)", "Republicans", "Unaffiliated"], "as": ["series", "votes"]}],
"mark": {"type": "bar"},
"encoding": {
"x": {"field": "date", "type": "ordinal", "scale": {"paddingInner": 0.5, "paddingOuter": 0.25}, "axis": null},
"y": {"field": "votes", "type": "quantitative", "stack": "zero", "scale": {"domain": [0, 3800], "nice": false, "zero": true}, "axis": {"values": [0, 1000, 2000, 3000], "format": "d"}},
"color": {"field": "series", "type": "nominal", "scale": {"domain": ["Democrats", "Other (LIB-GRE-CST)", "Republicans", "Unaffiliated"], "range": ["#00bfff", "#708090", "#ff6347", "#008000"]}, "legend": {"orient": "none", "legendX": 12, "legendY": 7}},
"order": {"field": "series", "sort": "ascending"}
}
},
{
"width": 564, "height": 350,
"data": {"name": "race"},
"transform": [{"fold": ["ASIAN", "BLACK or AFRICAN AMERICAN", "INDIAN AMERICAN or ALASKA NATIVE", "NATIVE HAWAIIAN or PACIFIC ISLANDER", "OTHER", "TWO or MORE RACES", "UNDESIGNATED", "WHITE"], "as": ["series", "votes"]}],
"mark": {"type": "bar"},
"encoding": {
"x": {"field": "date", "type": "ordinal", "scale": {"paddingInner": 0.5, "paddingOuter": 0.25}, "axis": null},
"y": {"field": "votes", "type": "quantitative", "stack": "zero", "scale": {"domain": [0, 3800], "nice": false, "zero": true}, "axis": {"values": [0, 1000, 2000, 3000], "format": "d"}},
"color": {"field": "series", "type": "nominal", "scale": {"domain": ["ASIAN", "BLACK or AFRICAN AMERICAN", "INDIAN AMERICAN or ALASKA NATIVE", "NATIVE HAWAIIAN or PACIFIC ISLANDER", "OTHER", "TWO or MORE RACES", "UNDESIGNATED", "WHITE"], "range": ["#1f77b4", "#ff7f0e", "#2ca02c", "#d62728", "#9467bd", "#8c564b", "#e377c2", "#7f7f7f"]}, "legend": {"orient": "none", "legendX": 12, "legendY": 7}},
"order": {"field": "series", "sort": "ascending"}
}
}
],
"spacing": 46,
"resolve": {"scale": {"color": "independent", "x": "independent"}, "legend": {"color": "independent"}}
},
{
"hconcat": [
{
"width": 564, "height": 350,
"data": {"name": "gender"},
"transform": [{"fold": ["Female", "Male", "Undesignated"], "as": ["series", "votes"]}],
"mark": {"type": "bar"},
"encoding": {
"x": {"field": "date", "type": "ordinal", "scale": {"paddingInner": 0.5, "paddingOuter": 0.25}, "axis": {"values": ["2020-09-05 00:00:00", "2020-09-10 00:00:00", "2020-09-15 00:00:00", "2020-09-20 00:00:00", "2020-09-25 00:00:00", "2020-09-30 00:00:00", "2020-10-05 00:00:00", "2020-10-10 00:00:00", "2020-10-15 00:00:00", "2020-10-20 00:00:00", "2020-10-25 00:00:00", "2020-10-30 00:00:00", "2020-11-04 00:00:00"], "labelAngle": -90, "labelOverlap": false, "labelLimit": 400}},
"y": {"field": "votes", "type": "quantitative", "stack": "zero", "scale": {"domain": [0, 3800], "nice": false, "zero": true}, "axis": {"values": [0, 1000, 2000, 3000], "format": "d"}},
"color": {"field": "series", "type": "nominal", "scale": {"domain": ["Female", "Male", "Undesignated"], "range": ["#1f77b4", "#ff7f0e", "#2ca02c"]}, "legend": {"orient": "none", "legendX": 12, "legendY": 7}},
"order": {"field": "series", "sort": "ascending"}
}
},
{
"width": 564, "height": 350,
"data": {"name": "age"},
"transform": [{"fold": ["18 - 25", "26 - 40", "41 - 65", "Over 65"], "as": ["series", "votes"]}],
"mark": {"type": "bar"},
"encoding": {
"x": {"field": "date", "type": "ordinal", "scale": {"paddingInner": 0.5, "paddingOuter": 0.25}, "axis": {"values": ["2020-09-05 00:00:00", "2020-09-10 00:00:00", "2020-09-15 00:00:00", "2020-09-20 00:00:00", "2020-09-25 00:00:00", "2020-09-30 00:00:00", "2020-10-05 00:00:00", "2020-10-10 00:00:00", "2020-10-15 00:00:00", "2020-10-20 00:00:00", "2020-10-25 00:00:00", "2020-10-30 00:00:00", "2020-11-04 00:00:00"], "labelAngle": -90, "labelOverlap": false, "labelLimit": 400}},
"y": {"field": "votes", "type": "quantitative", "stack": "zero", "scale": {"domain": [0, 3800], "nice": false, "zero": true}, "axis": {"values": [0, 1000, 2000, 3000], "format": "d"}},
"color": {"field": "series", "type": "nominal", "scale": {"domain": ["18 - 25", "26 - 40", "41 - 65", "Over 65"], "range": ["#1f77b4", "#ff7f0e", "#2ca02c", "#d62728"]}, "legend": {"orient": "none", "legendX": 456, "legendY": 7}},
"order": {"field": "series", "sort": "ascending"}
}
}
],
"spacing": 46,
"resolve": {"scale": {"color": "independent", "x": "independent"}, "legend": {"color": "independent"}}
}
]
}
